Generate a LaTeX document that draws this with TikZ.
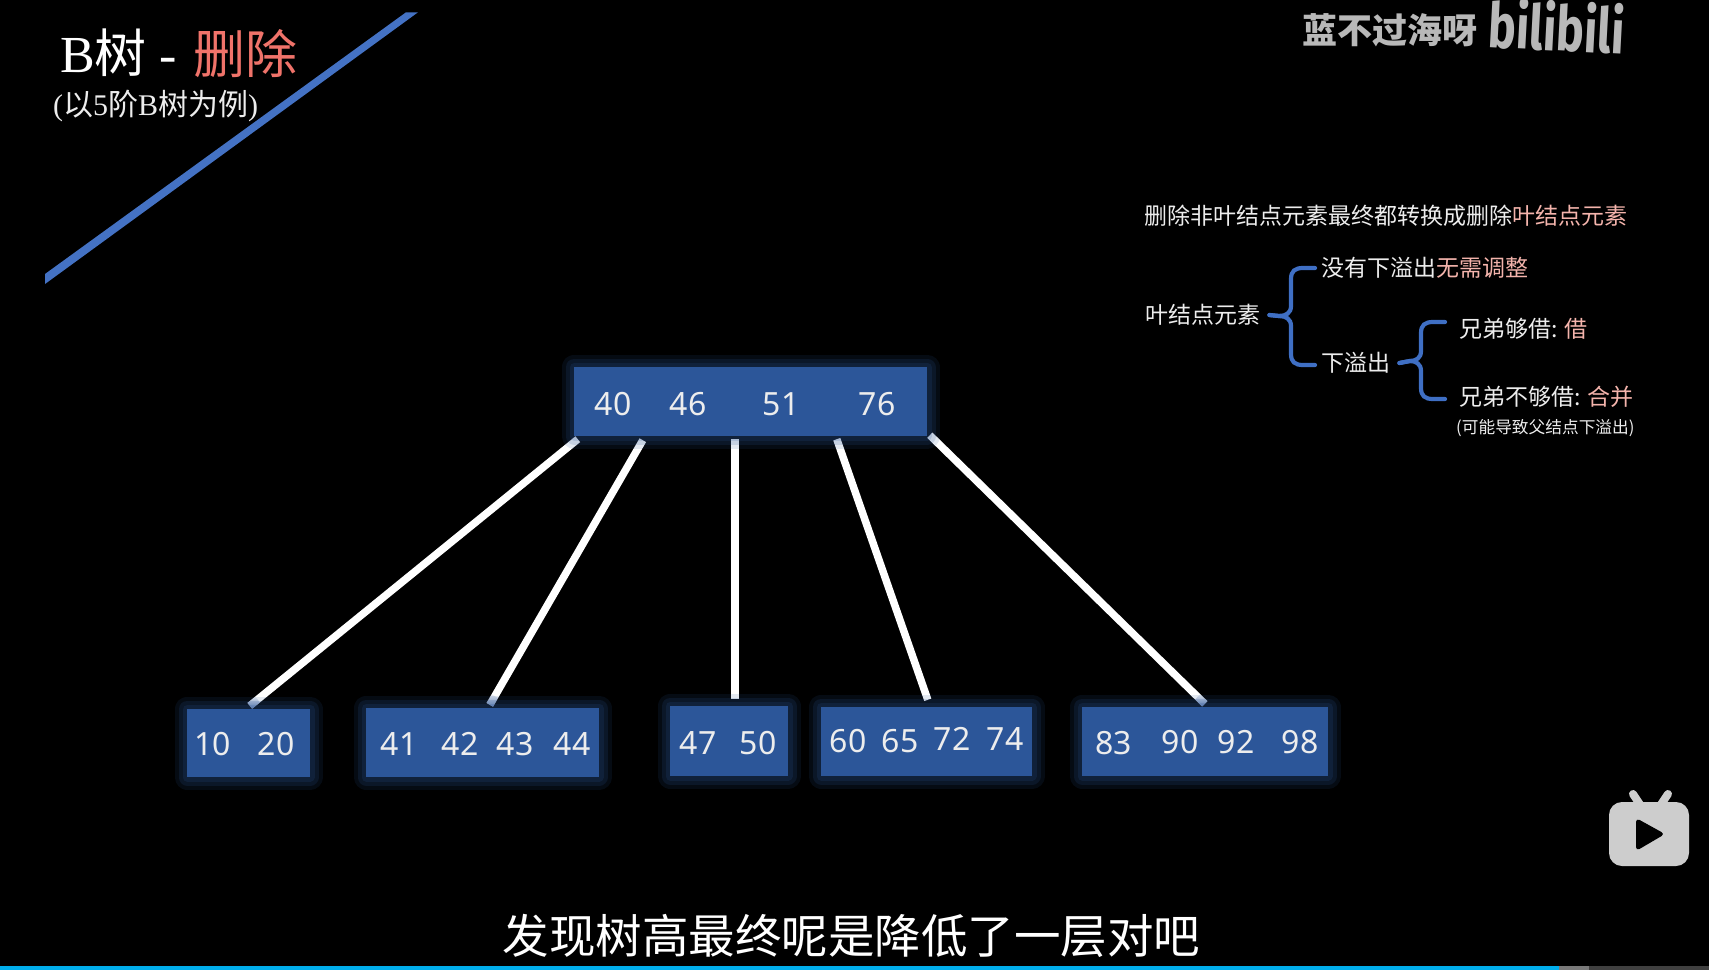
\documentclass[tikz,border=0pt]{standalone}
\usepackage{fontspec}
\setmainfont{Liberation Serif}
\newfontfamily\cjk{Noto Sans CJK SC}
\newfontfamily\keyfont{Noto Sans}
\newfontfamily\logofont{Fira Sans}
\usepackage{xcolor}
\usepackage{tikz}
\usetikzlibrary{backgrounds,calc,fadings}
\definecolor{boxblue}{HTML}{2C5699}
\definecolor{slashblue}{HTML}{4472C4}
\definecolor{braceblue}{HTML}{3F6FC4}
\definecolor{titlered}{HTML}{F0736A}
\definecolor{palered}{HTML}{F4B4AC}
\definecolor{softwhite}{HTML}{EDEDED}
\definecolor{marksgray}{HTML}{B8B8B8}
\definecolor{tvgray}{HTML}{CDCDCD}
\definecolor{barcyan}{HTML}{00AEEC}
\tikzset{
    keybox/.style={rectangle,fill=boxblue,inner sep=0pt,
        preaction={draw=boxblue,line width=25pt,line join=round,opacity=.13},
        preaction={draw=boxblue,line width=17pt,line join=round,opacity=.16},
        preaction={draw=boxblue,line width=9pt,line join=round,opacity=.16}},
    keytext/.style={text=softwhite,inner sep=0pt,font=\keyfont\fontsize{32}{32}\selectfont},
    treeedge/.style={draw=white,line width=7.5pt},
    edgefade/.style={draw=boxblue!75!white,line width=7.5pt,path fading=north},
    sidetext/.style={anchor=west,inner sep=0pt,text=softwhite,font=\cjk\fontsize{23}{23}\selectfont},
    bracket/.style={draw=braceblue,line width=4.2pt,line cap=round}
}
\begin{document}
\begin{tikzpicture}[x=1pt,y=-1pt]
        \useasboundingbox (0,0) rectangle (1709,970);
        \begin{pgfonlayer}{background}
            \fill[black] (0,0) rectangle (1709,970);
        \end{pgfonlayer}

        % Player bar
        \fill[barcyan] (0,966) rectangle (1559,970);
        \fill[gray!95!black] (1559,966) rectangle (1589,970);
        \fill[black!75] (1589,966) rectangle (1709,970);

        % Slash
        \fill[slashblue] (45,274) -- (406,12.3) -- (418,12.3) -- (45,284) -- cycle;

        % Title
        \node[anchor=base west,inner sep=0pt,text=white,font=\fontsize{52}{52}\selectfont] (title) at (60,72) {B{\cjk 树} -};
        \node[anchor=base west,inner sep=0pt,text=titlered,font=\cjk\fontsize{52}{52}\selectfont] (titledel) at (193,73) {删除};
        \node[anchor=base west,inner sep=0pt,text=softwhite,font=\fontsize{30}{30}\selectfont] (subtitle) at (53,115) {({\cjk 以}5{\cjk 阶}B{\cjk 树为例})};

        % Watermark
        \node[inner sep=0pt,text=marksgray,font=\cjk\bfseries\fontsize{35}{35}\selectfont] (owner) at (1389.5,30) {蓝不过海呀};
        \node[inner sep=0pt,text=marksgray,rotate=-3,xscale=.9,yscale=1.2,font=\logofont\bfseries\fontsize{52}{52}\selectfont] (logo) at (1557,26) {bilibili};

        % Tree nodes
        \node[keybox,minimum width=353pt,minimum height=69pt] (root) at (750.5,401.5) {};
        \node[keybox,minimum width=123pt,minimum height=68pt] (leafa) at (248.5,743) {};
        \node[keybox,minimum width=233pt,minimum height=69pt] (leafb) at (482.5,742.5) {};
        \node[keybox,minimum width=118pt,minimum height=70pt] (leafc) at (729,741) {};
        \node[keybox,minimum width=211pt,minimum height=69pt] (leafd) at (926.5,741.5) {};
        \node[keybox,minimum width=246pt,minimum height=69pt] (leafe) at (1205,741.5) {};

        % Keys
        \foreach \val/\px/\py in {40/613/404,46/688/404,51/781/404,76/877/404,
            10/212.5/744,20/276/744,41/399/744,42/460/744,43/515/744,44/572/744,
            47/698/743,50/758/743,60/848/741,65/900/741,72/952/739,74/1005/739,
            83/1113.5/743,90/1180/742,92/1236/742,98/1300/742}
            \node[keytext] (k\val) at (\px,\py) {\val};

        % Edges
        \coordinate (enda) at ([xshift=63pt,yshift=3pt]leafa.north west);
        \coordinate (endb) at ([xshift=124pt,yshift=3pt]leafb.north west);
        \coordinate (ende) at ([xshift=123pt,yshift=3pt]leafe.north west);
        \coordinate (starta) at ([xshift=4pt,yshift=-3pt]root.south west);
        \coordinate (startb) at ([xshift=69pt,yshift=-4pt]root.south west);
        \coordinate (starte) at ([xshift=356pt,yshift=1pt]root.south west);
        \begin{pgfonlayer}{background}
            \draw[treeedge] (starta) -- (enda);
            \draw[treeedge] (startb) -- (endb);
            \draw[treeedge] ([xshift=161pt,yshift=-3pt]root.south west) -- ([xshift=65pt,yshift=7pt]leafc.north west);
            \draw[treeedge] ([xshift=263pt,yshift=-3pt]root.south west) -- ([xshift=107pt,yshift=7pt]leafd.north west);
            \draw[treeedge] (starte) -- (ende);
            \draw[edgefade] ($(enda)!10pt!(starta)$) -- (enda);
            \draw[edgefade] ($(endb)!10pt!(startb)$) -- (endb);
            \draw[edgefade] ($(ende)!10pt!(starte)$) -- (ende);
        \end{pgfonlayer}

        % Notes
        \node[sidetext] (rule) at (1144,216) {删除非叶结点元素最终都转换成删除\textcolor{palered}{叶结点元素}};
        \node[sidetext] (leafkey) at (1145,315) {叶结点元素};
        \node[sidetext] (noflow) at (1321,268) {没有下溢出\textcolor{palered}{无需调整}};
        \node[sidetext] (flow) at (1321,363) {下溢出};
        \node[sidetext] (borrow) at (1459,329) {兄弟够借: \textcolor{palered}{借}};
        \node[sidetext] (merge) at (1459,397) {兄弟不够借: \textcolor{palered}{合并}};
        \node[sidetext,font=\cjk\fontsize{16.7}{17}\selectfont] (mergenote) at (1456,428) {(可能导致父结点下溢出)};

        % Braces
        \coordinate (tipa) at ([xshift=9pt]leafkey.east);
        \coordinate (tipb) at ([xshift=9pt]flow.east);
        \draw[bracket] (tipa) -- (1279,316) .. controls (1286,316) and (1291,313) .. (1291,306) -- (1291,279)
            .. controls (1291,271) and (1295,268) .. (1303,268) -- ([xshift=-6pt]noflow.west);
        \draw[bracket] (tipa) -- (1279,316) .. controls (1286,316) and (1291,319) .. (1291,326) -- (1291,354)
            .. controls (1291,362) and (1295,365) .. (1303,365) -- ([xshift=-6pt,yshift=-2pt]flow.west);
        \draw[bracket] (tipb) -- (1410,361) .. controls (1416,361) and (1421,358) .. (1421,351) -- (1421,333)
            .. controls (1421,325) and (1425,322) .. (1433,322) -- ([xshift=-14pt,yshift=7pt]borrow.west);
        \draw[bracket] (tipb) -- (1410,361) .. controls (1416,361) and (1421,364) .. (1421,371) -- (1421,388)
            .. controls (1421,396) and (1425,399) .. (1433,399) -- ([xshift=-14pt,yshift=-2pt]merge.west);

        % Player icon
        \draw[tvgray,line width=8pt,line cap=round] (1633,794) -- (1641,806);
        \draw[tvgray,line width=8pt,line cap=round] (1668,794) -- (1660,806);
        \fill[tvgray,rounded corners=13pt] (1609,802) rectangle (1689,866);
        \fill[black,rounded corners=4pt] (1636,818) -- (1665,834) -- (1636,851) -- cycle;

        % Caption
        \node[inner sep=0pt,text=white,font=\cjk\fontsize{46.5}{47}\selectfont] (caption) at (851.5,936) {发现树高最终呢是降低了一层对吧};
    \end{tikzpicture}
\end{document}
